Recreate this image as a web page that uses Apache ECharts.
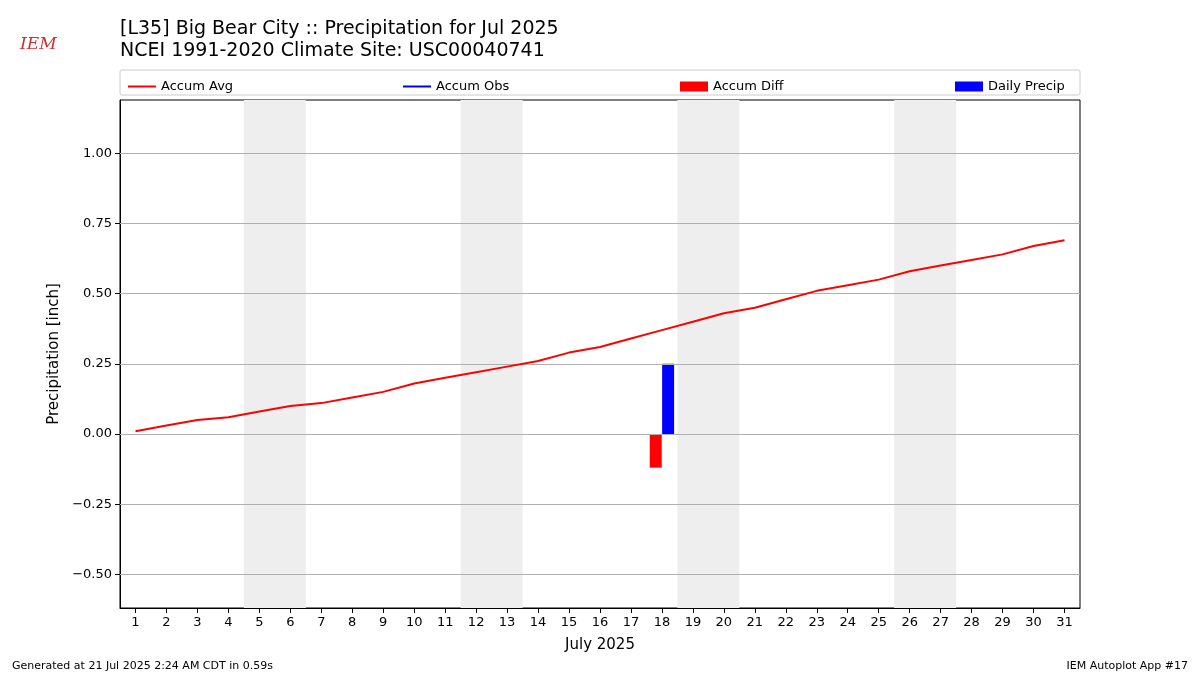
<!DOCTYPE html>
<html><head><meta charset="utf-8">
<script src="https://cdn.jsdelivr.net/npm/echarts@6/dist/echarts.min.js"></script>
<style>html,body{margin:0;padding:0;background:#fff}#c{width:1200px;height:675px}</style>
</head><body><div id="c"></div>
<script>
const days = Array.from({length:31},(_,i)=>i+1);
const accumAvg = [0.01,0.03,0.05,0.06,0.08,0.10,0.11,0.13,0.15,0.18,0.20,0.22,0.24,0.26,0.29,0.31,0.34,0.37,0.40,0.43,0.45,0.48,0.51,0.53,0.55,0.58,0.60,0.62,0.64,0.67,0.69];
const accumObs = [];
const diffDays = [18];
const accumDiff = [-0.12];
const precipDays = [18];
const dailyPrecip = [0.25];
const weekends = [[4.5,6.5],[11.5,13.5],[18.5,20.5],[25.5,27.5]];
const yTicks = [-0.5,-0.25,0,0.25,0.5,0.75,1.0];

const fmt = v => (v<0?'\u2212':'')+Math.abs(v).toFixed(2);
const chart = echarts.init(document.getElementById('c'));
const font = 'DejaVu Sans';
const lineIcon = 'path://M0,4h28v2h-28z';
const legendBase = {top:75, itemWidth:28, itemHeight:10, itemGap:0, textStyle:{fontFamily:font,fontSize:13,color:'#000'}};
chart.setOption({
  animation:false,
  textStyle:{fontFamily:font},
  title:[{text:'[L35] Big Bear City :: Precipitation for Jul 2025\nNCEI 1991-2020 Climate Site: USC00040741',left:120,top:18,padding:0,textStyle:{fontFamily:font,fontSize:19,fontWeight:'normal',color:'#000',lineHeight:22}},
    {text:'Generated at 21 Jul 2025 2:24 AM CDT in 0.59s',left:12,top:661,padding:0,textStyle:{fontFamily:font,fontSize:11,fontWeight:'normal',color:'#000'}},
    {text:'IEM Autoplot App #17',right:12,top:661,padding:0,textStyle:{fontFamily:font,fontSize:11,fontWeight:'normal',color:'#000'}},
    {text:'IEM',left:20,top:36,padding:0,textStyle:{fontFamily:'DejaVu Serif',fontSize:17,fontStyle:'italic',fontWeight:'normal',color:'#d03030'}}],
  graphic:[{type:'rect',shape:{x:120,y:70,width:960,height:25,r:2},style:{fill:'none',stroke:'#ccc'}}],
  legend:[
    Object.assign({data:[{name:'Accum Avg',icon:lineIcon}],left:123},legendBase),
    Object.assign({data:[{name:'Accum Obs',icon:lineIcon}],left:398},legendBase),
    Object.assign({data:[{name:'Accum Diff',icon:'rect'}],left:675},legendBase),
    Object.assign({data:[{name:'Daily Precip',icon:'rect'}],left:950},legendBase)],
  grid:{left:120,right:120,top:100,bottom:67,show:true,borderColor:'#000',borderWidth:1},
  xAxis:{type:'value',min:0.5,max:31.5,name:'July 2025',nameLocation:'middle',nameGap:30,
    nameTextStyle:{fontSize:15,color:'#000'},
    axisLine:{show:true,onZero:false,lineStyle:{color:'#000'}},splitLine:{show:false},
    axisTick:{show:true,customValues:days,length:5,lineStyle:{color:'#000'}},
    axisLabel:{customValues:days,fontSize:13,color:'#000',margin:8}},
  yAxis:{type:'value',min:-0.62,max:1.19,name:'Precipitation [inch]',nameLocation:'middle',nameGap:58,
    nameTextStyle:{fontSize:15,color:'#000'},
    axisLine:{show:true,onZero:false,lineStyle:{color:'#000'}},splitLine:{show:false},
    axisTick:{show:true,customValues:yTicks,length:5,lineStyle:{color:'#000'}},
    axisLabel:{customValues:yTicks,formatter:fmt,fontSize:13,color:'#000',margin:8}},
  series:[
    {type:'line',name:'Accum Avg',data:days.map((d,i)=>[d,accumAvg[i]]),showSymbol:false,symbol:'none',
      lineStyle:{color:'red',width:2},itemStyle:{color:'red'},z:5,
      markArea:{silent:true,itemStyle:{color:'#eeeeee'},data:weekends.map(w=>[{xAxis:w[0]},{xAxis:w[1]}])},
      markLine:{silent:true,symbol:'none',label:{show:false},lineStyle:{color:'#b0b0b0',type:'solid',width:1},
        data:yTicks.map(v=>({yAxis:v}))}},
    {type:'line',name:'Accum Obs',data:accumObs,showSymbol:false,symbol:'none',lineStyle:{color:'blue',width:2},itemStyle:{color:'blue'}},
    {type:'bar',name:'Accum Diff',data:diffDays.map((d,i)=>[d-0.2,accumDiff[i]]),barWidth:12,barGap:'-100%',itemStyle:{color:'red'},z:4},
    {type:'bar',name:'Daily Precip',data:precipDays.map((d,i)=>[d+0.2,dailyPrecip[i]]),barWidth:12,barGap:'-100%',itemStyle:{color:'blue'},z:4}
  ]
});
</script></body></html>
